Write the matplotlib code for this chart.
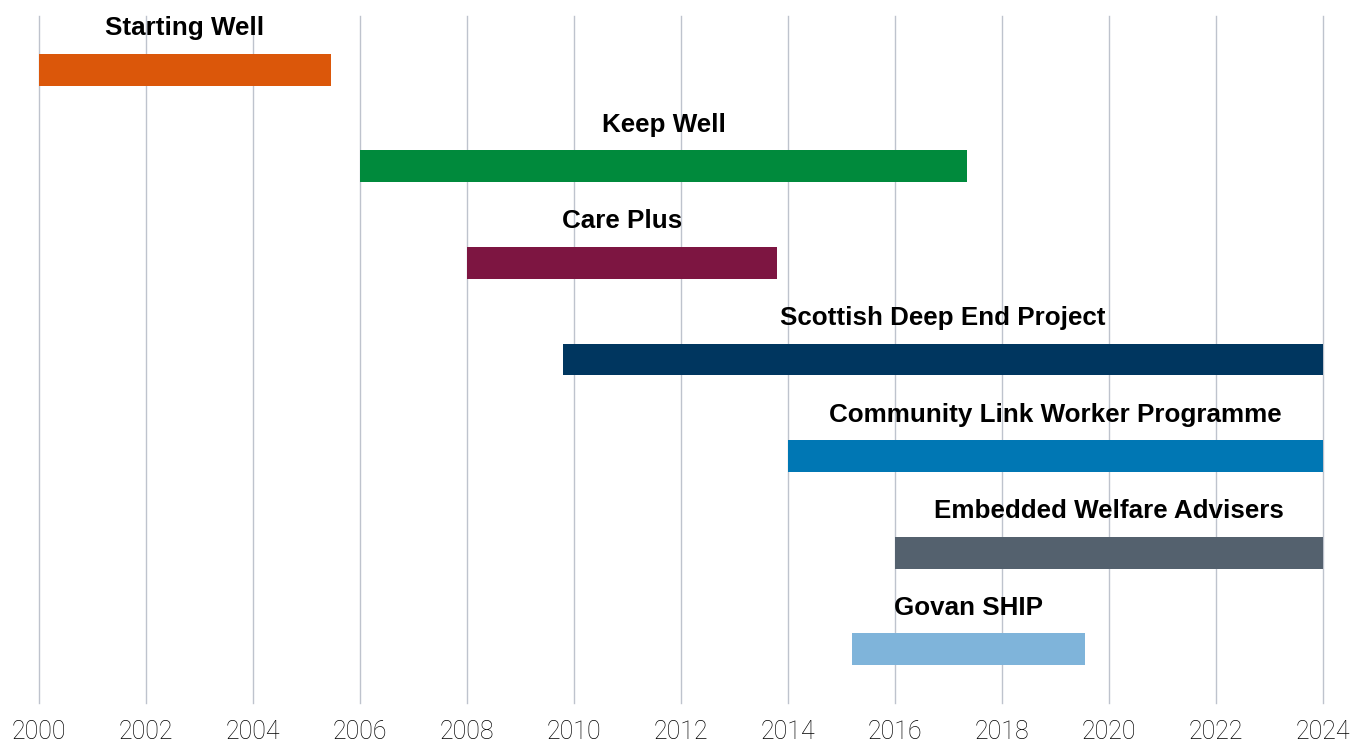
import matplotlib.pyplot as plt

# Programme timeline (years)
programmes = ["Starting Well", "Keep Well", "Care Plus", "Scottish Deep End Project",
              "Community Link Worker Programme", "Embedded Welfare Advisers", "Govan SHIP"]
start = [2000.0, 2006.0, 2008.0, 2009.8, 2014.0, 2016.0, 2015.2]
end = [2005.45, 2017.35, 2013.8, 2024.0, 2024.0, 2024.0, 2019.55]
colors = ["#DB570A", "#008A3C", "#7D1541", "#00365F", "#0077B4", "#54616E", "#7FB4DA"]
years = list(range(2000, 2025, 2))

fig = plt.figure(figsize=(13.54, 7.42), dpi=100)
ax = fig.add_axes([39 / 1354, 1 - 703 / 742, (1323 - 39) / 1354, (703 - 16) / 742])

for i, name in enumerate(programmes):
    ax.barh(i, end[i] - start[i], left=start[i], height=0.33, color=colors[i], zorder=3)
    ax.text((start[i] + end[i]) / 2, i - 0.43, name, ha="center", va="center",
            fontsize=18.7, fontweight="bold", family="Liberation Sans", color="black", zorder=4)

ax.set_xlim(2000, 2024)
ax.set_ylim(6.555, -0.555)
ax.set_xticks(years)
ax.set_xticklabels([str(y) for y in years], fontsize=18, family=["Roboto", "DejaVu Sans"],
                   fontweight="light", color="black")
ax.set_yticks([])
ax.tick_params(axis="x", length=0, pad=12.5)
ax.grid(axis="x", color="#BEC3CD", linewidth=1.0, zorder=0)
for gl in ax.get_xgridlines():
    gl.set_clip_on(False)
for s in ax.spines.values():
    s.set_visible(False)

fig.savefig("out.png", dpi=100)
